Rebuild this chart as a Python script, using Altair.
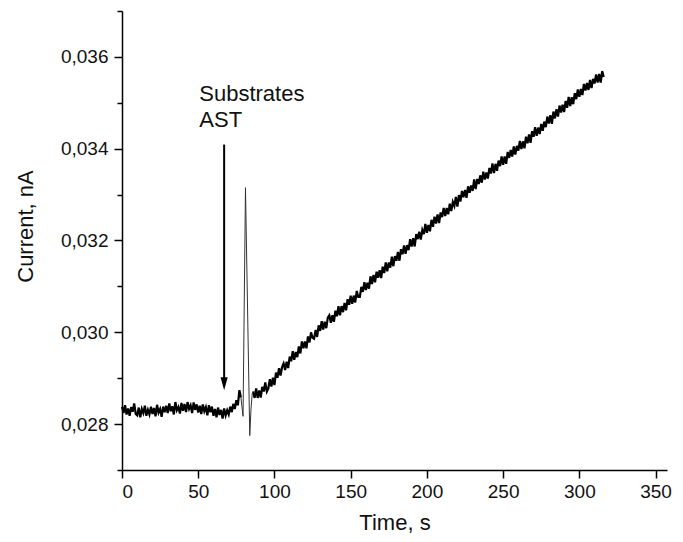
import altair as alt
import pandas as pd

# ---- baseline before substrate addition, t = 0..78 s (1 s sampling) ----
base_start = 0
base_current = [
    0.02838, 0.02824, 0.02841, 0.02821, 0.02834, 0.02818, 0.02837, 0.02827, 0.02845, 0.02822,
    0.02819, 0.02836, 0.02815, 0.02833, 0.02824, 0.02840, 0.02818, 0.02831, 0.02821, 0.02838,
    0.02822, 0.02835, 0.02817, 0.02842, 0.02825, 0.02833, 0.02816, 0.02838, 0.02826, 0.02840,
    0.02824, 0.02845, 0.02828, 0.02839, 0.02821, 0.02848, 0.02830, 0.02837, 0.02823, 0.02846,
    0.02829, 0.02844, 0.02826, 0.02848, 0.02833, 0.02841, 0.02824, 0.02847, 0.02831, 0.02843,
    0.02825, 0.02840, 0.02822, 0.02843, 0.02828, 0.02837, 0.02819, 0.02841, 0.02826, 0.02838,
    0.02818, 0.02833, 0.02815, 0.02836, 0.02820, 0.02831, 0.02812, 0.02834, 0.02819, 0.02830,
    0.02821, 0.02838, 0.02826, 0.02844, 0.02833, 0.02852, 0.02841,
    0.02874, 0.02858,
]

# ---- injection artefact (spike) ----
spike_time = [79.4, 81.0, 83.8, 84.6, 85.4]
spike_current = [0.02817, 0.03315, 0.02775, 0.02832, 0.02866]

# ---- reaction, t = 86..316 s (1 s sampling) ----
rise_start = 86
rise_current = [
    0.02871, 0.02857, 0.02878, 0.02857, 0.02873, 0.02858, 0.02881, 0.02871, 0.02891, 0.02871,
    0.02878, 0.02898, 0.02882, 0.02901, 0.02885, 0.02912, 0.02901, 0.02922, 0.02906, 0.02924,
    0.02932, 0.02918, 0.02936, 0.02922, 0.02947, 0.02937, 0.02959, 0.02940, 0.02957, 0.02946,
    0.02969, 0.02954, 0.02980, 0.02965, 0.02980, 0.02965, 0.02991, 0.02978, 0.03000, 0.02988,
    0.02986, 0.03005, 0.02990, 0.03015, 0.03003, 0.03024, 0.03006, 0.03023, 0.03009, 0.03032,
    0.03037, 0.03021, 0.03037, 0.03023, 0.03047, 0.03035, 0.03057, 0.03037, 0.03057, 0.03044,
    0.03064, 0.03048, 0.03072, 0.03060, 0.03080, 0.03062, 0.03080, 0.03065, 0.03090, 0.03077,
    0.03077, 0.03099, 0.03088, 0.03109, 0.03092, 0.03108, 0.03095, 0.03122, 0.03105, 0.03125,
    0.03109, 0.03132, 0.03119, 0.03135, 0.03118, 0.03143, 0.03129, 0.03152, 0.03133, 0.03152,
    0.03141, 0.03165, 0.03144, 0.03166, 0.03156, 0.03175, 0.03156, 0.03181, 0.03170, 0.03189,
    0.03171, 0.03190, 0.03179, 0.03203, 0.03187, 0.03205, 0.03187, 0.03214, 0.03203, 0.03219,
    0.03202, 0.03223, 0.03214, 0.03236, 0.03217, 0.03234, 0.03220, 0.03245, 0.03230, 0.03252,
    0.03237, 0.03257, 0.03238, 0.03261, 0.03251, 0.03271, 0.03253, 0.03271, 0.03257, 0.03280,
    0.03264, 0.03284, 0.03275, 0.03295, 0.03274, 0.03299, 0.03285, 0.03308, 0.03294, 0.03310,
    0.03293, 0.03318, 0.03304, 0.03320, 0.03308, 0.03333, 0.03312, 0.03334, 0.03323, 0.03342,
    0.03326, 0.03350, 0.03333, 0.03348, 0.03335, 0.03358, 0.03346, 0.03368, 0.03347, 0.03367,
    0.03352, 0.03374, 0.03362, 0.03383, 0.03365, 0.03383, 0.03367, 0.03393, 0.03380, 0.03397,
    0.03383, 0.03405, 0.03387, 0.03406, 0.03396, 0.03417, 0.03399, 0.03416, 0.03401, 0.03426,
    0.03412, 0.03431, 0.03413, 0.03438, 0.03426, 0.03447, 0.03428, 0.03446, 0.03432, 0.03454,
    0.03439, 0.03459, 0.03447, 0.03470, 0.03455, 0.03473, 0.03454, 0.03481, 0.03466, 0.03486,
    0.03470, 0.03494, 0.03479, 0.03496, 0.03480, 0.03504, 0.03489, 0.03513, 0.03493, 0.03512,
    0.03497, 0.03521, 0.03508, 0.03529, 0.03513, 0.03530, 0.03517, 0.03541, 0.03527, 0.03543,
    0.03528, 0.03550, 0.03532, 0.03552, 0.03542, 0.03562, 0.03544, 0.03563, 0.03544, 0.03569,
    0.03556,
]

# ---- annotation ----
arrow_time = [67]
arrow_top = [0.03409]
arrow_end = [0.02895]
arrow_head = [0.02888]
label_time = [50.7, 50.7]
label_current = [0.03505, 0.03448]
label_text = ["Substrates", "AST"]

x_ticks = [0, 25, 50, 75, 100, 125, 150, 175, 200, 225, 250, 275, 300, 325, 350]
y_ticks = [0.027, 0.028, 0.029, 0.030, 0.031, 0.032, 0.033, 0.034, 0.035, 0.036, 0.037]

base_time = list(range(base_start, base_start + len(base_current)))
rise_time = list(range(rise_start, rise_start + len(rise_current)))
base_df = pd.DataFrame({"t": base_time, "current": base_current, "seg": "base"})
rise_df = pd.DataFrame({"t": rise_time, "current": rise_current, "seg": "rise"})
spike_df = pd.DataFrame({
    "t": [base_time[-1]] + spike_time + [rise_time[0]],
    "current": [base_current[-1]] + spike_current + [rise_current[0]],
})
trace = pd.concat([base_df, rise_df], ignore_index=True)
arrow_df = pd.DataFrame({"t": arrow_time, "top": arrow_top, "end": arrow_end, "head": arrow_head})
label_df = pd.DataFrame({"t": label_time, "current": label_current, "text": label_text})

FONT = "Liberation Sans"

x_scale = alt.Scale(domain=[0, 357.5], nice=False, zero=False)
y_scale = alt.Scale(domain=[0.027, 0.037], nice=False, zero=False)

x_axis = alt.Axis(
    title="Time, s", values=x_ticks,
    labelExpr="datum.value % 50 == 0 ? datum.label : ''",
    tickSize={"condition": {"test": "datum.value % 50 == 0", "value": 8}, "value": 5},
    labelPadding=4, titleY=59, titleBaseline="alphabetic",
)
y_axis = alt.Axis(
    title="Current, nA", values=y_ticks,
    labelExpr="round(datum.value*1000) % 2 == 0 ? replace(format(datum.value, '.3f'), '.', ',') : ''",
    tickSize={"condition": {"test": "round(datum.value*1000) % 2 == 0", "value": 8}, "value": 5},
    labelPadding=6, titleX=-97, titleY=215, titleBaseline="middle",
)

line = alt.Chart(trace).mark_line(color="black", strokeWidth=2.2).encode(
    x=alt.X("t:Q", scale=x_scale, axis=x_axis),
    y=alt.Y("current:Q", scale=y_scale, axis=y_axis),
    detail="seg:N",
    order="t:Q",
)
spike = alt.Chart(spike_df).mark_line(color="#333", strokeWidth=1).encode(
    x=alt.X("t:Q", scale=x_scale),
    y=alt.Y("current:Q", scale=y_scale),
    order="t:Q",
)

arrow = alt.Chart(arrow_df).mark_rule(color="black", strokeWidth=2).encode(
    x=alt.X("t:Q", scale=x_scale),
    y=alt.Y("top:Q", scale=y_scale),
    y2="end:Q",
)
head = alt.Chart(arrow_df).mark_point(
    shape="M-0.55,-1L0.55,-1L0,1Z", filled=True, color="black", opacity=1, size=170,
).encode(
    x=alt.X("t:Q", scale=x_scale),
    y=alt.Y("head:Q", scale=y_scale),
)
labels = alt.Chart(label_df).mark_text(
    align="left", baseline="alphabetic", font=FONT, fontSize=22, color="#111",
).encode(
    x=alt.X("t:Q", scale=x_scale),
    y=alt.Y("current:Q", scale=y_scale),
    text="text:N",
)

chart = alt.layer(line, spike, arrow, head, labels).properties(
    width=545, height=459,
    autosize=alt.AutoSizeParams(type="none"),
    padding={"left": 114, "top": 3, "right": 8, "bottom": 63},
).configure_view(stroke=None).configure_axis(
    grid=False,
    domainColor="black", domainWidth=1.5,
    tickColor="black", tickWidth=1.5,
    labelFont=FONT, labelFontSize=19, labelColor="#111",
    titleFont=FONT, titleFontSize=22, titleFontWeight="normal", titleColor="#111",
)

chart.save("out.html", embed_options={"renderer": "svg", "actions": False})
